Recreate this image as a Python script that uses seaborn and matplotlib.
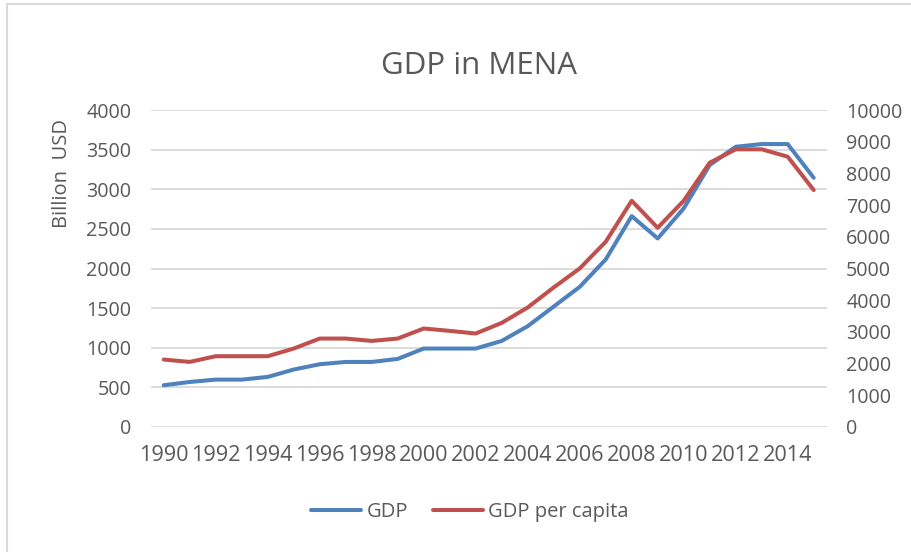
import pandas as pd
import matplotlib.pyplot as plt
import seaborn as sns
from matplotlib.patches import Rectangle

# data
years = list(range(1990, 2016))
gdp = [527, 568, 598, 598, 632, 725, 792, 821, 821, 859, 990, 990, 990,
       1086, 1272, 1520, 1768, 2114, 2661, 2379, 2758, 3305, 3536, 3570,
       3570, 3145]
gdp_per_capita = [2128, 2053, 2233, 2233, 2233, 2475, 2790, 2790, 2716, 2790,
                  3107, 3032, 2949, 3284, 3770, 4402, 5002, 5842, 7137, 6285,
                  7137, 8337, 8760, 8760, 8527, 7475]
left_ticks = [0, 500, 1000, 1500, 2000, 2500, 3000, 3500, 4000]
right_ticks = [0, 1000, 2000, 3000, 4000, 5000, 6000, 7000, 8000, 9000, 10000]

df = pd.DataFrame({'pos': range(len(years)), 'year': years,
                   'GDP': gdp, 'GDP per capita': gdp_per_capita})

sns.set_theme(style='white')
plt.rcParams['font.family'] = ['Open Sans', 'DejaVu Sans']
text_col = '#595959'
blue = '#4F81BD'
red = '#C0504D'

fig = plt.figure(figsize=(9.12, 5.52), dpi=100)
ax = fig.add_axes([150.7 / 912, 1 - 427 / 552, 676 / 912, 317 / 552])
ax2 = ax.twinx()

sns.lineplot(data=df, x='pos', y='GDP', ax=ax, color=blue, linewidth=2.9,
             label='GDP', legend=False)
sns.lineplot(data=df, x='pos', y='GDP per capita', ax=ax2, color=red,
             linewidth=2.9, label='GDP per capita', legend=False)

ax.set_xlim(-0.5, len(years) - 0.5)
ax.set_ylim(0, 4000)
ax2.set_ylim(0, 10000)
ax.set_yticks(left_ticks)
ax2.set_yticks(right_ticks)
ax.set_xticks(df['pos'][::2])
ax.set_xticklabels(df['year'][::2])

ax.grid(True, axis='y', color='#D9D9D9', linewidth=1.3)
ax.grid(False, axis='x')
ax2.grid(False)
for a in (ax, ax2):
    for s in a.spines.values():
        s.set_visible(False)
ax.tick_params(axis='both', length=0, colors=text_col)
ax.tick_params(axis='y', pad=14, labelsize=14.2)
ax.tick_params(axis='x', pad=13, labelsize=15.6)
ax2.tick_params(axis='y', length=0, labelsize=14.2, colors=text_col, pad=14)

ax.set_xlabel('')
ax2.set_ylabel('')
ax.set_ylabel('Billion  USD', fontsize=14.5, color=text_col)
ax.yaxis.set_label_coords(-0.117, 0.80)

fig.suptitle('GDP in MENA', x=479 / 912, y=1 - 66 / 552, va='center',
             fontsize=22.5, color=text_col)

h1, l1 = ax.get_legend_handles_labels()
h2, l2 = ax2.get_legend_handles_labels()
fig.legend(h1 + h2, l1 + l2, loc='center', bbox_to_anchor=(470 / 912, 1 - 512 / 552),
           ncol=2, frameon=False, fontsize=14.5, labelcolor=text_col,
           handlelength=2.5, handletextpad=0.25, columnspacing=1.25)

# chart border
fig.patches.append(Rectangle((7 / 912, -0.1), 1.2, 1 - 4 / 552 + 0.1,
                             transform=fig.transFigure, fill=False,
                             edgecolor='#D9D9D9', linewidth=1.5))

fig.savefig('out.png', dpi=100)
